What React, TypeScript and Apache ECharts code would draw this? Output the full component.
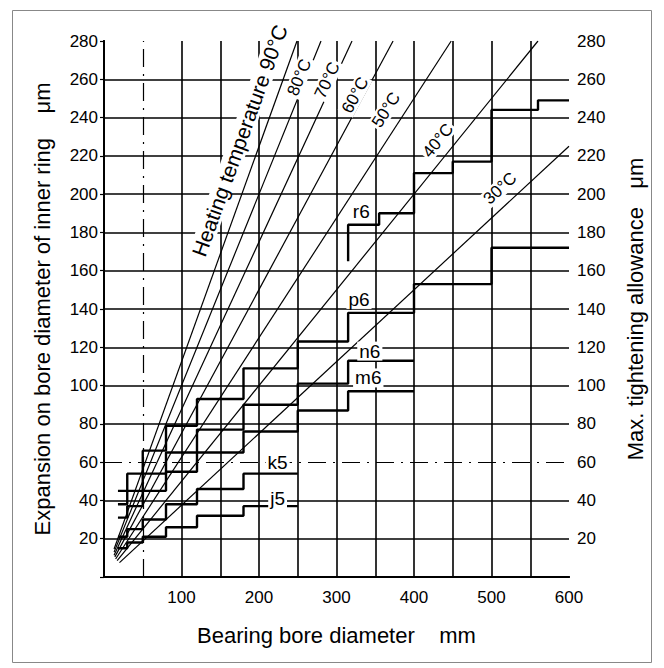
import React, { useEffect, useRef } from 'react';
import * as echarts from 'echarts';

// ---- axes ----
const xMin = 0;
const xMax = 600;
const yMin = 0;
const yMax = 280;
const xLabelValues = [100, 200, 300, 400, 500, 600];
const gridX = [50, 100, 150, 200, 250, 300, 350, 400, 450, 500, 550];
const gridY = [20, 40, 60, 80, 100, 120, 140, 160, 180, 200, 220, 240, 260];
const dashedGridX = [50];
const dashedGridY = [60];

// ---- fit steps (max tightening allowance) ----
const fitNames = ['j5', 'k5', 'm6', 'n6', 'p6', 'r6'];
const j5X = [18, 30, 50, 80, 120, 180, 250];
const j5Y = [15, 18, 21, 26, 32, 37, 37];
const k5X = [18, 30, 50, 80, 120, 180, 250];
const k5Y = [21, 25, 30, 38, 46, 54, 54];
const m6X = [18, 30, 50, 80, 120, 180, 250, 315, 400];
const m6Y = [31, 37, 45, 55, 65, 76, 87, 97, 97];
const n6X = [18, 30, 50, 80, 120, 180, 250, 315, 400];
const n6Y = [38, 45, 54, 65, 77, 90, 101, 113, 113];
const p6X = [18, 30, 50, 80, 120, 180, 250, 315, 400, 500, 600];
const p6Y = [45, 54, 66, 79, 93, 109, 123, 138, 153, 172, 172];
const r6X = [315, 315, 355, 400, 450, 500, 560, 600];
const r6Y = [165, 184, 190, 211, 217, 244, 249, 249];
const fitLabelPos = [[224, 41], [224, 60], [341, 104], [343, 118], [329, 145], [332, 191]];

// ---- heating temperature lines ----
const tempNames = ['90°C', '80°C', '70°C', '60°C', '50°C', '40°C', '30°C'];
const tempLabelTexts = ['Heating temperature 90°C', '80°C', '70°C', '60°C', '50°C', '40°C', '30°C'];
const tempStart = [[13, 14.6], [13, 13], [13, 11.4], [14, 10.5], [15, 9.4], [17, 8.5], [20, 7.5]];
const tempEnd = [[249, 280], [280, 280], [320, 280], [373, 280], [448, 280], [560, 280], [600, 225]];
const tempLabelPos = [[175, 228], [252, 261], [288, 259.5], [324, 251.7], [364, 244], [431, 228], [511, 203]];

const FONT = '"Liberation Sans", Arial, sans-serif';

const zip = (xs: number[], ys: number[]) => xs.map((x, i) => [x, ys[i]]);

export default function App() {
  const ref = useRef<HTMLDivElement>(null);

  useEffect(() => {
    if (!ref.current) return;
    const chart = echarts.init(ref.current, null, { renderer: 'svg' });

    const fitSeries = [
      [j5X, j5Y], [k5X, k5Y], [m6X, m6Y], [n6X, n6Y], [p6X, p6Y], [r6X, r6Y],
    ].map(([xs, ys], i) => ({
      name: fitNames[i],
      type: 'line',
      step: 'end',
      data: zip(xs, ys),
      showSymbol: false,
      symbol: 'none',
      lineStyle: { color: '#000', width: 2.4 },
      z: 5,
      silent: true,
    }));

    const tempSeries = tempNames.map((n, i) => ({
      name: n,
      type: 'line',
      data: [tempStart[i], tempEnd[i]],
      showSymbol: false,
      symbol: 'none',
      lineStyle: { color: '#000', width: 1.2 },
      z: 4,
      silent: true,
    }));

    const gridLines: any[] = [];
    gridX.forEach((v) => {
      const dashed = dashedGridX.includes(v);
      gridLines.push({
        xAxis: v,
        lineStyle: { color: '#000', width: dashed ? 1.2 : 1.6, type: dashed ? [18, 7, 2, 7] : 'solid' },
      });
    });
    gridY.forEach((v) => {
      const dashed = dashedGridY.includes(v);
      gridLines.push({
        yAxis: v,
        lineStyle: { color: '#000', width: dashed ? 1.2 : 1.6, type: dashed ? [18, 7, 2, 7] : 'solid' },
      });
    });

    const gridSeries = {
      name: 'grid',
      type: 'line',
      data: [[xMin, yMin]],
      showSymbol: false,
      symbol: 'none',
      lineStyle: { opacity: 0 },
      silent: true,
      z: 2,
      markLine: {
        silent: true,
        symbol: ['none', 'none'],
        label: { show: false },
        animation: false,
        data: gridLines,
      },
    };

    const axisLabelStyle = { color: '#000', fontSize: 17, fontFamily: FONT };
    const nameStyle = { color: '#000', fontSize: 22, fontFamily: FONT };

    chart.setOption({
      animation: false,
      backgroundColor: '#fff',
      grid: { left: 104, right: 95, top: 41, bottom: 91, containLabel: false },
      xAxis: [
        {
          type: 'value',
          min: xMin,
          max: xMax,
          interval: 50,
          position: 'bottom',
          axisLine: { show: true, lineStyle: { color: '#000', width: 2 } },
          axisTick: { show: false },
          splitLine: { show: false },
          axisLabel: {
            ...axisLabelStyle,
            margin: 12,
            formatter: (v: number) => (xLabelValues.includes(v) ? String(v) : ''),
          },
          name: 'Bearing bore diameter    mm',
          nameLocation: 'middle',
          nameGap: 47,
          nameTextStyle: nameStyle,
        },
        {
          type: 'value',
          min: xMin,
          max: xMax,
          interval: 50,
          position: 'top',
          axisLine: { show: true, lineStyle: { color: '#000', width: 2 } },
          axisTick: { show: false },
          splitLine: { show: false },
          axisLabel: { show: false },
        },
      ],
      yAxis: [
        {
          type: 'value',
          min: yMin,
          max: yMax,
          interval: 20,
          position: 'left',
          axisLine: { show: true, lineStyle: { color: '#000', width: 2 } },
          axisTick: { show: true, length: 4, lineStyle: { color: '#000', width: 1.2 } },
          splitLine: { show: false },
          axisLabel: {
            ...axisLabelStyle,
            margin: 6,
            formatter: (v: number) => (v > 0 ? String(v) : ''),
          },
          name: 'Expansion on bore diameter of inner ring    μm',
          nameLocation: 'middle',
          nameRotate: 90,
          nameGap: 51,
          nameTextStyle: nameStyle,
        },
        {
          type: 'value',
          min: yMin,
          max: yMax,
          interval: 20,
          position: 'right',
          axisLine: { show: true, lineStyle: { color: '#000', width: 2 } },
          axisTick: { show: false },
          splitLine: { show: false },
          axisLabel: {
            ...axisLabelStyle,
            margin: 8,
            formatter: (v: number) => (v > 0 ? String(v) : ''),
          },
          name: 'Max. tightening allowance   μm',
          nameLocation: 'middle',
          nameRotate: 90,
          nameGap: 55,
          nameTextStyle: nameStyle,
        },
      ],
      series: [gridSeries, ...tempSeries, ...fitSeries],
    });

    const toPx = (p: number[]) => chart.convertToPixel({ gridIndex: 0 }, p) as number[];

    const graphics: any[] = [];
    tempNames.forEach((_, i) => {
      const a = toPx(tempStart[i]);
      const b = toPx(tempEnd[i]);
      const ang = Math.atan2(a[1] - b[1], b[0] - a[0]);
      const c = toPx(tempLabelPos[i]);
      graphics.push({
        type: 'text',
        x: c[0],
        y: c[1],
        rotation: ang,
        z: 100,
        style: {
          text: tempLabelTexts[i],
          fill: '#000',
          font: `${i === 0 ? 21 : 17}px ${FONT}`,
          align: 'center',
          verticalAlign: 'middle',
          backgroundColor: '#fff',
          padding: [0, 2],
        },
      });
    });
    fitNames.forEach((n, i) => {
      const c = toPx(fitLabelPos[i]);
      graphics.push({
        type: 'text',
        x: c[0],
        y: c[1],
        z: 100,
        style: {
          text: n,
          fill: '#000',
          font: `19px ${FONT}`,
          align: 'center',
          verticalAlign: 'middle',
          backgroundColor: '#fff',
          padding: [0, 2],
        },
      });
    });
    graphics.push({
      type: 'rect',
      z: 0,
      shape: { x: 12.5, y: 10.5, width: 639, height: 652 },
      style: { fill: 'none', stroke: '#888', lineWidth: 1 },
    });
    chart.setOption({ graphic: graphics });

    return () => chart.dispose();
  }, []);

  return (
    <div
      ref={ref}
      style={{ position: 'fixed', left: 0, top: 0, width: 664, height: 668, background: '#fff' }}
    />
  );
}
